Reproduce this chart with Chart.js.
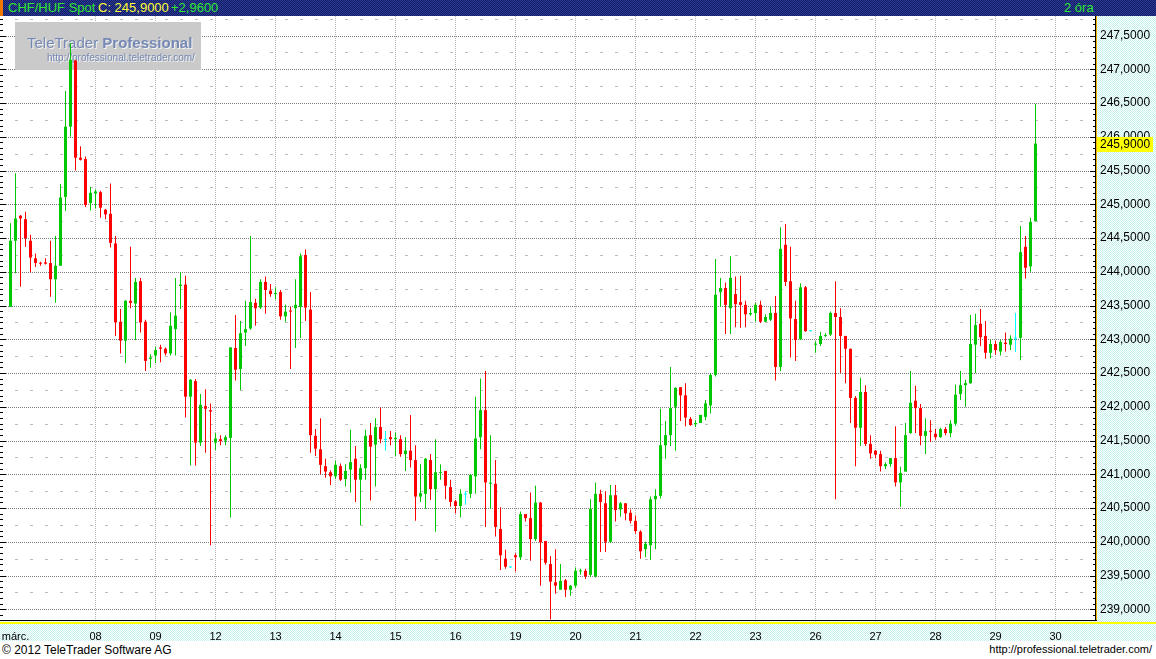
<!DOCTYPE html>
<html>
<head>
<meta charset="utf-8">
<script src="https://cdn.jsdelivr.net/npm/chart.js@4"></script>
<style>
body{margin:0;width:1156px;height:659px;overflow:hidden;background:#fff;position:relative;font-family:"Liberation Sans",Arial,sans-serif}
#head{position:absolute;left:0;top:0;width:1156px;height:16px;box-sizing:border-box;border-left:3px solid #f07800;
  background:repeating-conic-gradient(#2c3c96 0 25%,#121d64 0 50%) 0 0/2px 2px}
#head span{position:absolute;top:1px;font-size:13px;line-height:14px;white-space:nowrap}
#wrap{position:absolute;left:0;top:16px;width:1156px;height:625px}
#foot{position:absolute;left:0;top:641px;width:1156px;height:18px;background:#fff;font-size:12px;color:#000}
#foot span{position:absolute;top:2px;white-space:nowrap}
</style>
</head>
<body>
<div id="head">
  <span style="left:5px;color:#2ee62e">CHF/HUF Spot</span>
  <span style="left:95px;color:#ffff33">C: 245,9000</span>
  <span style="left:168px;color:#2ee62e">+2,9600</span>
  <span style="left:1061px;color:#2ee62e">2 óra</span>
</div>
<div id="wrap"><canvas id="myChart" width="1156" height="625"></canvas></div>
<div id="foot">
  <span style="left:2px">© 2012 TeleTrader Software AG</span>
  <span style="right:4px;font-size:11px">http://professional.teletrader.com/</span>
</div>
<script>
// CHF/HUF, 2 hour candles
var xTickLabels = ['márc.','08','09','12','13','14','15','16','19','20','21','22','23','26','27','28','29','30']
var xTickPos = [1,17,29,41,53,65,77,89,101,113,125,137,149,161,173,185,197,209]
var priceTicks = [239,239.5,240,240.5,241,241.5,242,242.5,243,243.5,244,244.5,245,245.5,246,246.5,247,247.5]
var lastPrice = 245.90

var opens = [
243.48,244.46,244.83,244.78,244.46,244.20,244.13,244.14,244.13,243.89,
244.09,245.11,246.15,247.13,245.69,245.67,245.02,245.16,245.18,244.92,
244.86,244.42,243.26,242.98,243.57,243.53,243.86,243.26,242.71,242.76,
242.88,242.86,242.79,243.15,243.79,243.81,242.15,242.38,241.47,242.01,
241.95,241.47,241.52,241.50,241.54,242.87,242.56,243.10,243.16,243.54,
243.47,243.85,243.72,243.67,243.70,243.34,243.42,243.46,243.48,244.25,
243.44,241.57,241.37,241.12,241.03,240.97,241.12,240.93,241.07,241.23,
240.92,241.09,241.58,241.44,241.70,241.51,241.55,241.52,241.52,241.30,
241.35,241.21,240.67,240.71,241.21,240.78,241.02,241.05,240.81,240.60,
240.53,240.70,240.71,240.97,241.55,241.95,240.86,240.86,240.19,239.75,
239.62,239.80,239.77,240.41,240.35,240.04,240.58,240.01,239.67,239.40,
239.29,239.43,239.29,239.35,239.56,239.57,239.51,239.49,240.71,240.57,
240.00,240.69,240.48,240.57,240.43,240.31,240.15,239.89,239.95,240.63,
240.68,241.43,241.58,242.00,242.29,242.17,241.82,241.74,241.76,241.85,
242.02,242.47,243.70,243.76,243.46,243.67,243.55,243.51,243.37,243.39,
243.51,243.26,243.29,243.39,242.59,244.40,243.86,243.30,243.00,243.77,
243.12,242.92,242.93,243.05,243.07,243.39,243.33,243.05,242.86,242.13,
241.69,242.22,241.45,241.35,241.30,241.12,241.15,241.24,240.88,241.04,
241.61,242.09,241.98,241.57,241.64,241.60,241.55,241.67,241.61,241.75,
242.19,242.32,242.35,242.92,243.23,243.05,242.80,242.93,242.82,242.95,
242.92,243.01,243.02,244.37,244.08,244.75]
var highs = [
244.72,245.46,244.84,244.89,244.55,244.27,244.15,244.20,244.46,244.53,
245.30,246.68,247.39,247.14,245.86,245.71,245.26,245.22,245.20,244.93,
245.31,244.53,243.45,243.58,244.37,243.91,243.91,243.29,242.78,242.89,
242.92,242.88,243.40,243.91,243.99,243.94,242.41,242.41,242.19,242.26,
242.05,241.61,241.58,241.58,242.88,243.36,243.27,243.57,244.53,243.60,
243.89,243.93,243.82,243.77,243.73,243.51,243.48,243.89,244.27,244.33,
243.70,241.67,241.83,241.23,241.06,241.20,241.16,241.15,241.66,241.42,
241.15,241.66,241.76,241.83,241.99,241.64,241.64,241.62,241.58,241.55,
241.88,241.43,241.15,241.24,241.30,241.52,241.15,241.05,240.92,240.62,
240.78,240.75,241.00,242.15,242.42,242.53,241.58,241.21,240.51,239.88,
239.63,239.83,240.45,240.41,240.73,240.83,240.59,240.01,239.79,239.89,
239.67,239.45,239.36,239.62,239.60,239.60,240.63,240.88,240.77,240.75,
240.84,240.84,240.59,240.57,240.48,240.39,240.17,240.00,240.67,240.78,
241.97,241.79,242.59,242.29,242.29,242.35,241.85,241.80,241.88,242.10,
242.50,244.19,243.91,243.84,244.23,243.93,243.94,243.57,243.46,243.54,
243.57,243.37,243.49,243.64,244.66,244.71,244.37,243.57,243.83,243.79,
243.12,242.97,243.11,243.09,243.41,243.86,243.46,243.05,242.86,242.16,
242.43,242.32,241.58,241.36,241.35,241.18,241.24,241.71,241.11,241.76,
242.53,242.31,242.04,241.83,241.80,241.67,241.69,241.70,241.80,242.33,
242.53,242.40,243.36,243.38,243.45,243.27,242.99,242.98,242.99,243.10,
243.06,243.39,244.68,244.53,244.80,246.49]
var lows = [
243.48,243.98,243.78,244.37,243.99,244.07,244.09,244.11,243.63,243.54,
244.09,244.90,246.00,245.50,245.65,244.96,244.91,244.94,244.80,244.78,
244.36,243.05,242.79,242.65,243.46,242.99,243.10,242.53,242.58,242.65,
242.66,242.76,242.76,242.76,243.45,241.84,241.13,241.13,241.42,241.32,
239.95,241.36,241.43,241.43,240.36,242.39,242.25,242.90,243.14,243.20,
243.45,243.38,243.63,243.59,243.29,243.26,242.56,242.87,243.02,243.27,
241.32,241.27,241.00,240.95,240.84,240.93,240.90,240.82,240.73,240.59,
240.25,240.92,240.61,240.82,241.46,241.35,241.43,241.27,241.26,241.05,
241.10,240.31,240.59,240.49,240.62,240.15,240.92,240.63,240.52,240.42,
240.36,240.55,240.65,240.71,241.37,240.22,240.49,240.08,239.58,239.60,
239.61,239.56,239.73,240.30,239.72,240.01,239.35,239.66,238.85,239.23,
239.29,239.18,239.20,239.32,239.51,239.45,239.48,239.47,239.85,239.85,
239.98,240.30,240.37,240.32,240.27,240.12,239.75,239.77,239.73,239.89,
240.64,241.23,241.42,241.35,241.79,241.71,241.72,241.70,241.76,241.80,
241.90,242.45,243.48,243.08,243.08,243.18,243.17,243.18,243.35,243.26,
243.24,243.26,243.27,242.39,242.53,243.79,242.73,242.68,242.99,243.11,
243.12,242.80,242.90,243.03,243.05,240.63,242.50,242.35,241.76,241.12,
241.42,241.42,241.23,241.24,241.04,241.08,241.11,240.82,240.52,241.04,
241.60,241.61,241.43,241.30,241.48,241.51,241.54,241.58,241.55,241.72,
242.10,242.00,242.34,242.50,242.90,242.71,242.72,242.77,242.76,242.82,
242.84,242.81,242.69,243.90,244.00,244.75]
var closes = [
244.46,244.79,244.79,244.50,244.21,244.13,244.12,244.12,243.89,244.09,
245.10,246.15,247.14,245.69,245.66,244.99,245.17,245.19,244.95,244.85,
244.43,243.25,242.98,243.57,243.54,243.85,243.25,242.68,242.73,242.84,
242.86,242.79,243.20,243.35,243.81,242.15,242.40,241.47,242.03,241.97,
241.93,241.53,241.49,241.55,242.88,242.55,243.09,243.15,243.55,243.46,
243.85,243.73,243.67,243.68,243.34,243.41,243.41,243.51,244.23,243.47,
241.58,241.38,241.14,241.04,240.97,241.14,240.92,241.05,241.18,240.92,
241.09,241.57,241.41,241.70,241.52,241.51,241.52,241.54,241.30,241.35,
241.21,240.67,240.72,241.23,240.78,241.03,241.03,240.83,240.59,240.53,
240.71,240.70,240.99,241.53,241.95,240.88,240.87,240.22,239.80,239.63,
239.62,239.77,240.41,240.35,240.04,240.58,239.99,239.69,239.41,239.35,
239.42,239.29,239.35,239.57,239.57,239.49,240.49,240.71,240.59,240.00,
240.69,240.47,240.57,240.42,240.31,240.16,239.86,239.97,240.63,240.68,
241.43,241.58,241.98,242.28,242.17,241.84,241.73,241.76,241.88,242.05,
242.47,243.66,243.76,243.51,243.91,243.52,243.51,243.37,243.39,243.51,
243.26,243.33,243.39,242.59,244.34,243.85,243.31,242.99,243.77,243.12,
243.12,242.93,243.05,243.06,243.39,243.33,243.05,242.86,242.13,241.69,
242.22,241.45,241.31,241.29,241.12,241.15,241.24,240.88,241.02,241.58,
242.06,241.98,241.57,241.64,241.63,241.55,241.67,241.61,241.75,242.18,
242.32,242.35,242.93,243.21,243.03,242.80,242.93,242.84,242.96,242.93,
243.01,243.01,244.29,244.06,244.74,245.90]

var colors = opens.map(function(o, i){
  if (closes[i] > o) return '#00c800'
  if (closes[i] < o) return '#ff0000'
  return '#00ffff'
})

function priceText(v){ return v.toFixed(4).replace('.', ',') }

function dither(a, b){
  var c = document.createElement('canvas')
  c.width = 2; c.height = 2
  var g = c.getContext('2d')
  g.fillStyle = a; g.fillRect(0,0,2,2)
  g.fillStyle = b; g.fillRect(0,0,1,1); g.fillRect(1,1,1,1)
  return c
}

function noPad(scale){
  scale.paddingTop = 0; scale.paddingBottom = 0
  scale.paddingLeft = 0; scale.paddingRight = 0
}

var decor = {
  id: 'decor',
  beforeDraw: function(chart){
    var ctx = chart.ctx, a = chart.chartArea
    ctx.save()
    ctx.fillStyle = '#fff'
    ctx.fillRect(0, 0, chart.width, chart.height)
    ctx.fillStyle = ctx.createPattern(dither('#ffffff', '#c4f0f0'), 'repeat')
    ctx.fillRect(a.right, 0, chart.width - a.right, chart.height)
    ctx.fillRect(0, a.bottom, chart.width, chart.height - a.bottom)
    ctx.restore()
  },
  beforeDatasetsDraw: function(chart){
    var ctx = chart.ctx, a = chart.chartArea
    var xs = chart.scales.x, ys = chart.scales.y
    ctx.save()
    ctx.lineWidth = 1
    // light dashes on the quarter levels
    ctx.strokeStyle = '#bdbdbd'
    ctx.setLineDash([3, 12])
    priceTicks.forEach(function(v){
      var y = Math.round(ys.getPixelForValue(v + 0.25)) + 0.5
      if (y < a.top) return
      ctx.beginPath(); ctx.moveTo(a.left, y); ctx.lineTo(a.right, y); ctx.stroke()
    })
    // day separators
    ctx.strokeStyle = '#b4b4b4'
    ctx.setLineDash([1, 1])
    xTickPos.slice(1).forEach(function(p){
      var x = Math.floor(xs.getPixelForValue(p)) + 0.5
      ctx.beginPath(); ctx.moveTo(x, a.top); ctx.lineTo(x, a.bottom); ctx.stroke()
    })
    // price grid
    ctx.strokeStyle = '#7c7c7c'
    priceTicks.forEach(function(v){
      var y = Math.round(ys.getPixelForValue(v)) + 0.5
      ctx.beginPath(); ctx.moveTo(a.left, y); ctx.lineTo(a.right, y); ctx.stroke()
    })
    ctx.setLineDash([])
    // watermark
    ctx.fillStyle = '#cacaca'
    ctx.fillRect(15, 6, 186, 48)
    ctx.textBaseline = 'alphabetic'
    ctx.font = '15px "Liberation Sans"'
    var w1 = ctx.measureText('TeleTrader ').width
    ctx.fillStyle = '#f4f4f4'
    ctx.fillText('TeleTrader ', 28, 33)
    ctx.fillStyle = '#7689b4'
    ctx.fillText('TeleTrader ', 27, 32)
    ctx.font = 'bold 15px "Liberation Sans"'
    ctx.fillStyle = '#f4f4f4'
    ctx.fillText('Professional', 28 + w1, 33)
    ctx.fillStyle = '#7689b4'
    ctx.fillText('Professional', 27 + w1, 32)
    ctx.font = '10px "Liberation Sans"'
    ctx.fillStyle = '#f4f4f4'
    ctx.fillText('http://professional.teletrader.com/', 48, 46)
    ctx.fillStyle = '#7689b4'
    ctx.fillText('http://professional.teletrader.com/', 47, 45)
    ctx.restore()
  },
  afterDraw: function(chart){
    var ctx = chart.ctx, a = chart.chartArea
    var ys = chart.scales.y
    ctx.save()
    // tick marks on both sides of the plot
    ctx.fillStyle = '#000'
    for (var k = 0; k < priceTicks.length + 1; k++) {
      var base = priceTicks[0] - 0.5 + k * 0.5
      for (var s = 0; s < 6; s++) {
        var y = Math.round(ys.getPixelForValue(base + s * 0.5 / 6))
        if (y < a.top || y > a.bottom) continue
        var len = s === 0 ? 6 : 3
        ctx.fillRect(a.right - len, y, len, 1)
        ctx.fillRect(a.left, y, len, 1)
      }
    }
    // axis lines
    ctx.fillRect(a.right - 1, a.top, 1, a.bottom - a.top + 1)
    ctx.fillStyle = '#f0b400'
    ctx.fillRect(a.right, a.top, 1, a.bottom - a.top + 1)
    ctx.fillStyle = '#000'
    ctx.fillRect(a.left, a.bottom, a.right - a.left + 1, 1)
    ctx.fillStyle = '#ffff00'
    ctx.fillRect(a.left, a.bottom + 2, chart.width, 2)
    // last price tag
    var py = ys.getPixelForValue(lastPrice)
    ctx.fillStyle = '#ffff00'
    ctx.fillRect(a.right + 1, Math.round(py) - 7, 56, 15)
    ctx.fillStyle = '#000'
    ctx.font = '12px "Liberation Sans"'
    ctx.textBaseline = 'middle'
    ctx.fillText(priceText(lastPrice), a.right + 4, Math.round(py) + 1)
    ctx.restore()
  }
}

Chart.defaults.font.family = '"Liberation Sans", Arial, sans-serif'

var chart = new Chart('myChart', {
  type: 'bar',
  data: {
    datasets: [{
      label: 'body',
      data: opens.map(function(o, i){ return {x: i, y: [o, closes[i]]} }),
      backgroundColor: colors,
      barThickness: 3,
      minBarLength: 1,
      grouped: false,
      inflateAmount: 0,
      order: 0
    }, {
      label: 'wick',
      data: lows.map(function(l, i){ return {x: i, y: [l, highs[i]]} }),
      backgroundColor: colors,
      barThickness: 1,
      minBarLength: 1,
      grouped: false,
      inflateAmount: 0,
      order: 1
    }]
  },
  options: {
    responsive: false,
    animation: false,
    layout: { padding: 0 },
    plugins: { legend: { display: false }, tooltip: { enabled: false }, title: { display: false } },
    scales: {
      x: {
        type: 'linear',
        min: -2.1,
        max: 217.1,
        offset: false,
        grid: { display: false },
        border: { display: false },
        afterBuildTicks: function(scale){
          scale.ticks = xTickPos.map(function(p){ return {value: p} })
        },
        afterFit: function(scale){ scale.height = 21; noPad(scale) },
        ticks: {
          autoSkip: false,
          maxRotation: 0,
          padding: 2,
          color: '#000',
          font: { size: 11 },
          callback: function(v, i){ return xTickLabels[i] }
        }
      },
      y: {
        type: 'linear',
        position: 'right',
        min: 238.841,
        max: 247.79,
        bounds: 'data',
        grid: { display: false, drawTicks: false },
        border: { display: false },
        afterBuildTicks: function(scale){
          scale.ticks = priceTicks.map(function(v){ return {value: v} })
        },
        afterFit: function(scale){ scale.width = 60; noPad(scale) },
        ticks: {
          padding: 4,
          color: '#000',
          font: { size: 12 },
          callback: function(v){ return priceText(v) }
        }
      }
    }
  },
  plugins: [decor]
})
</script>
</body>
</html>
